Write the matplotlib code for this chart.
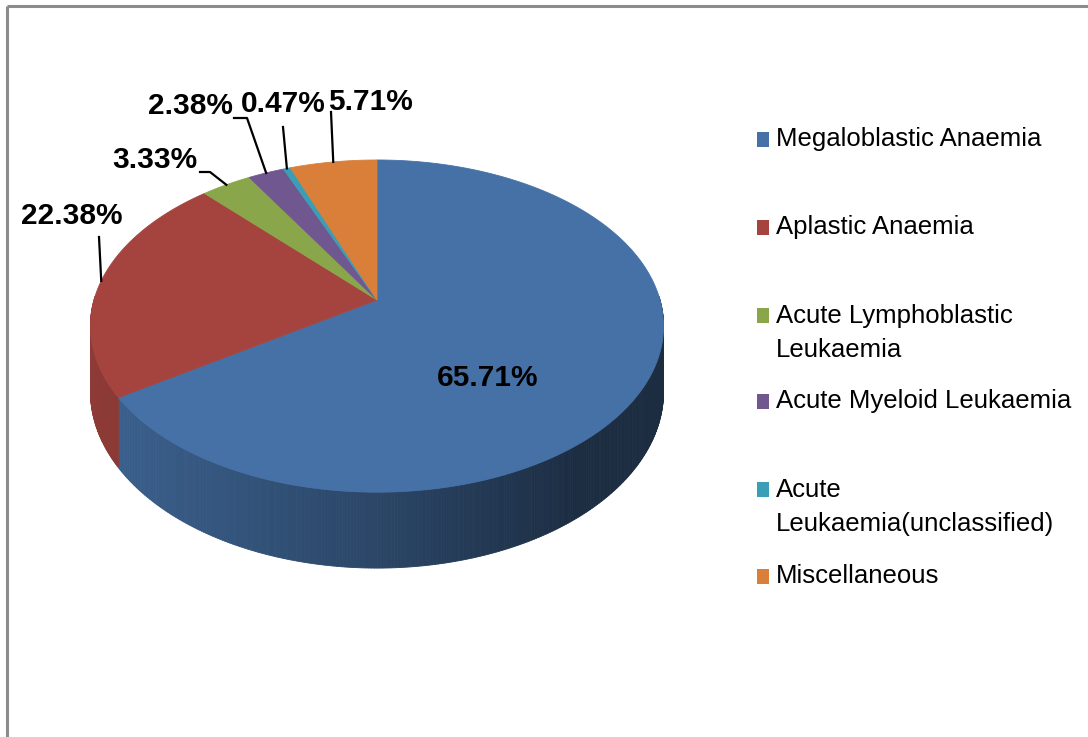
import numpy as np
import matplotlib
matplotlib.use("Agg")
import matplotlib.pyplot as plt
from matplotlib import font_manager
from matplotlib.patches import Polygon, Rectangle
from matplotlib.colors import to_rgb

# data
labels = ["Megaloblastic Anaemia", "Aplastic Anaemia", "Acute Lymphoblastic\nLeukaemia",
          "Acute Myeloid Leukaemia", "Acute\nLeukaemia(unclassified)", "Miscellaneous"]
values = [65.71, 22.38, 3.33, 2.38, 0.47, 5.71]
colors = ["#4571a6", "#a5443f", "#8aa64a", "#71578f", "#3a9eb6", "#da7f3a"]

# layout, all in pixels of a 1088x737 canvas
W, H = 1088, 737
CX, CY = 377, 300              # apex of the pie
A, C, K = 283, 162, 0.157      # horizontal radius, vertical scale, perspective
DEPTH = 64
# label text centre, and the leader path from text to the slice
label_pos = [(488, 378), (72, 216), (155, 160), (190, 106), (283, 104), (370, 102)]
leader_from = [None, [(99, 237)], [(200, 172), (210, 172)], [(234, 118), (247, 118)],
               [(283, 127)], [(331, 112)]]
LEG_X, LEG_Y, LINE_H = 757, [139, 227, 333, 401, 507, 576], 36

# a narrow face would be closest; fall back to Liberation Sans at a smaller size
names = {f.name for f in font_manager.fontManager.ttflist}
narrow = [n for n in ['Liberation Sans Narrow', 'Arial Narrow', 'DejaVu Sans Condensed']
          if n in names]
if narrow:
    plt.rcParams['font.family'] = [narrow[0], 'DejaVu Sans']
    LABEL_FS, LEG_FS = 24, 19.5
else:
    plt.rcParams['font.family'] = ['Liberation Sans', 'DejaVu Sans']
    LABEL_FS, LEG_FS = 21.5, 18.5


def proj(theta):
    t = np.radians(theta)
    den = 1 + K * np.sin(t)
    return CX + A * np.cos(t) / den, CY - C * np.sin(t) / den


def depth(theta):
    return DEPTH / (1 + K * np.sin(np.radians(theta)))


def shade(theta):
    t = np.radians(theta)
    u = np.cos(t) / (1 + K * np.sin(t))
    return np.interp(u, [-1, 0, 0.7], [0.86, 0.62, 0.40])


fig = plt.figure(figsize=(W / 100, H / 100), dpi=100)
ax = fig.add_axes([0, 0, 1, 1])
ax.set_xlim(0, W)
ax.set_ylim(H, 0)
ax.axis('off')

# chart frame (only top and left visible)
ax.plot([7, W], [6, 6], color='#8c8c8c', lw=2.2, solid_capstyle='butt')
ax.plot([7, 7], [6, H], color='#8c8c8c', lw=2.2, solid_capstyle='butt')

fracs = np.array(values) / sum(values)
ends = 90 - 360 * np.cumsum(fracs)
starts = np.concatenate([[90], ends[:-1]])

# side wall, front half only
for s, e, col in zip(starts, ends, colors):
    base = np.array(to_rgb(col))
    th = np.linspace(s, e, max(int(abs(s - e) / 0.5), 2))
    for t0, t1 in zip(th[:-1], th[1:]):
        if np.sin(np.radians((t0 + t1) / 2)) > 0.02:
            continue
        x0, y0 = proj(t0)
        x1, y1 = proj(t1)
        c = base * shade((t0 + t1) / 2)
        ax.add_patch(Polygon([(x0, y0), (x1, y1), (x1, y1 + depth(t1)), (x0, y0 + depth(t0))],
                             closed=True, fc=c, ec=c, lw=0.6))

# top face
for s, e, col in zip(starts, ends, colors):
    th = np.linspace(s, e, max(int(abs(s - e)), 2) + 1)
    xs, ys = proj(th)
    pts = [(CX, CY)] + list(zip(xs, ys))
    ax.add_patch(Polygon(pts, closed=True, fc=col, ec=col, lw=0.6))

# data labels with leaders
for i, (v, s, e) in enumerate(zip(values, starts, ends)):
    lx, ly = label_pos[i]
    ax.text(lx, ly, f"{v:.2f}%", ha='center', va='center', fontsize=LABEL_FS,
            fontweight='bold', color='black')
    if leader_from[i] is not None:
        mx, my = proj((s + e) / 2)
        path = leader_from[i] + [(mx, my)]
        ax.plot([p[0] for p in path], [p[1] for p in path], color='black', lw=1.6)

# legend
for lab, col, y in zip(labels, colors, LEG_Y):
    n = lab.count('\n') + 1
    sy = y - (n - 1) * LINE_H / 2
    ax.add_patch(Rectangle((LEG_X, sy - 7.5), 12, 15, fc=col, ec='none'))
    ax.text(LEG_X + 19, y, lab, ha='left', va='center', fontsize=LEG_FS,
            color='black', linespacing=1.5)

fig.savefig('out.png', dpi=100)
